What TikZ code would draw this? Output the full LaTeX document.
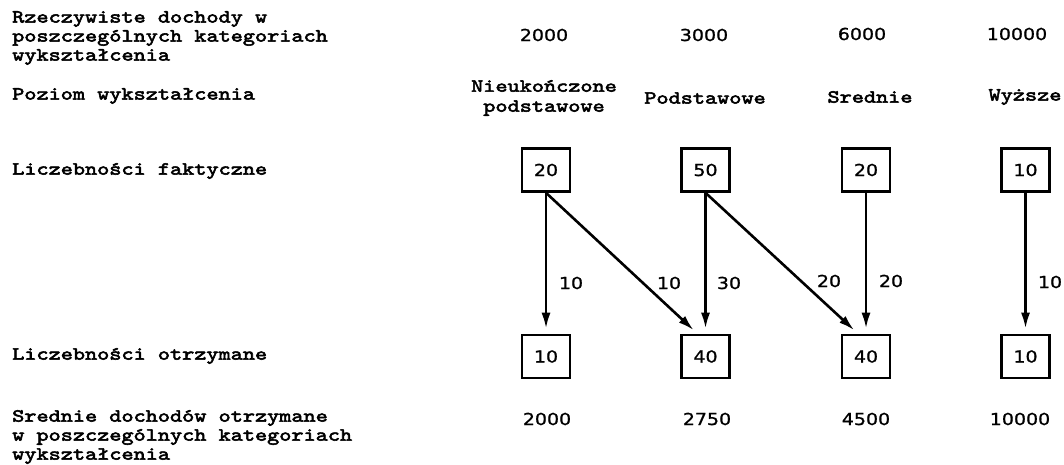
\documentclass[tikz,border=0pt]{standalone}
\usepackage{fontspec}
\usetikzlibrary{arrows.meta}
\newfontfamily\typewriter{lmmono10-regular.otf}[FakeStretch=1.25,FakeBold=3]
\newfontfamily\digits{DejaVu Sans}[FakeStretch=1.15,FakeBold=1]
\tikzset{
  rowlabel/.style={font=\typewriter\fontsize{18.5}{19}\selectfont,
    align=left, anchor=west, inner sep=0pt},
  levellabel/.style={font=\typewriter\fontsize{18.5}{20}\selectfont,
    align=center, inner sep=0pt},
  value/.style={font=\digits\fontsize{16.5}{18}\selectfont, inner sep=0pt},
  countbox/.style={value, draw, line width=2.6pt, minimum width=48pt,
    minimum height=43pt},
  flow/.style={line width=2.6pt, shorten >=5pt,
    -{Latex[length=16pt,width=9pt]}},
  flowlabel/.style={value}
}
\begin{document}
\begin{tikzpicture}[x=1pt,y=-1pt]
\useasboundingbox (0,0) rectangle (1064,465);

% row captions on the left
\node[rowlabel] (capIncome) at (12,38)
  {Rzeczywiste dochody w\\poszczególnych kategoriach\\wykształcenia};
\node[rowlabel] (capLevel) at (12,96) {Poziom wykształcenia};
\node[rowlabel] (capActual) at (12,171) {Liczebności faktyczne};
\node[rowlabel] (capGot) at (12,356) {Liczebności otrzymane};
\node[rowlabel] (capMeans) at (12,437)
  {Srednie dochodów otrzymane\\w poszczególnych kategoriach\\wykształcenia};

% actual incomes
\node[value] (inc1) at (544,35) {2000};
\node[value] (inc2) at (704,35) {3000};
\node[value] (inc3) at (862,34) {6000};
\node[value] (inc4) at (1017,34) {10000};

% education levels
\node[levellabel] (lev1) at (544,98) {Nieukończone\\podstawowe};
\node[levellabel] (lev2) at (705,98) {Podstawowe};
\node[levellabel] (lev3) at (870,97) {Srednie};
\node[levellabel] (lev4) at (1025,97) {Wyższe};

% actual counts
\node[countbox] (t1) at (546,170) {20};
\node[countbox] (t2) at (705.5,170) {50};
\node[countbox] (t3) at (866,170) {20};
\node[countbox] (t4) at (1025.5,170) {10};

% counts obtained
\node[countbox] (b1) at (546,356.5) {10};
\node[countbox] (b2) at (705.5,356.5) {40};
\node[countbox] (b3) at (866,356.5) {40};
\node[countbox] (b4) at (1025.5,356.5) {10};

% transfers between categories
\draw[flow] (t1.south) -- (b1.north);
\draw[flow] (t1.south) -- ([shift={(-8pt,0pt)}]b2.north);
\draw[flow] (t2.south) -- (b2.north);
\draw[flow] (t2.south) -- ([shift={(-8pt,0pt)}]b3.north);
\draw[flow] (t3.south) -- (b3.north);
\draw[flow] (t4.south) -- (b4.north);

% transfer sizes
\node[flowlabel] (f11) at (571,283) {10};
\node[flowlabel] (f12) at (669,283) {10};
\node[flowlabel] (f22) at (729,283) {30};
\node[flowlabel] (f23) at (829,281) {20};
\node[flowlabel] (f33) at (891,281) {20};
\node[flowlabel] (f44) at (1050,282) {10};

% mean incomes obtained
\node[value] (mean1) at (547,419) {2000};
\node[value] (mean2) at (707,419) {2750};
\node[value] (mean3) at (866,419) {4500};
\node[value] (mean4) at (1020,419) {10000};
\end{tikzpicture}
\end{document}
